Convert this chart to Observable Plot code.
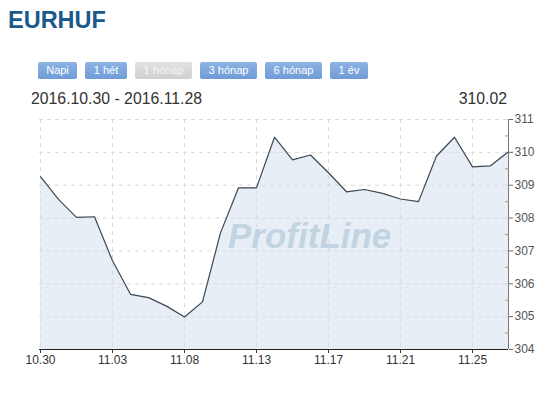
<!DOCTYPE html>
<html>
<head>
<meta charset="utf-8">
<script src="https://cdn.jsdelivr.net/npm/d3@7"></script>
<script src="https://cdn.jsdelivr.net/npm/@observablehq/plot@0.6"></script>
<style>
  html, body { margin: 0; padding: 0; background: #fff; }
  #wrap { position: relative; width: 560px; height: 394px; overflow: hidden; font-family: "Liberation Sans", Arial, sans-serif; }
  #title { position: absolute; left: 8px; top: 7px; margin: 0; font-size: 23.5px; font-weight: bold; color: #19598c; letter-spacing: 0; }
  #buttons { position: absolute; left: 38px; top: 62px; display: flex; gap: 8px; }
  .btn { height: 17px; line-height: 17px; font-size: 11px; color: #fff; text-align: center; border-radius: 2px;
         background: linear-gradient(#8db3e3, #6f9bd7); }
  .btn.off { background: linear-gradient(#e2e2e2, #cfcfcf); color: #f6f6f6; }
  #range { position: absolute; left: 31px; top: 90px; font-size: 15.8px; color: #333; }
  #last { position: absolute; right: 53px; top: 90px; font-size: 15.8px; color: #333; }
  #chart { position: absolute; left: 0; top: 100px; }
  #wm { position: absolute; left: 228px; top: 216px; font-size: 35px; font-weight: bold; font-style: italic; color: #c2d4e1; pointer-events: none; }
</style>
</head>
<body>
<div id="wrap">
  <h1 id="title"></h1>
  <div id="buttons"></div>
  <div id="range"></div>
  <div id="last"></div>
  <div id="chart"></div>
  <div id="wm"></div>
</div>
<script>
const titleText = "EURHUF";
const buttonLabels = ["Napi", "1 hét", "1 hónap", "3 hónap", "6 hónap", "1 év"];
const buttonWidths = [39, 42, 57, 57, 57, 38];
const activeButton = "1 hónap";
const rangeText = "2016.10.30 - 2016.11.28";
const lastValueText = "310.02";
const watermark = "ProfitLine";

const dates = ["10.30","10.31","11.01","11.02","11.03","11.04","11.06","11.07","11.08","11.09",
               "11.10","11.11","11.13","11.14","11.15","11.16","11.17","11.18","11.19","11.20",
               "11.21","11.22","11.23","11.24","11.25","11.27","11.28"];
const values = [309.26, 308.57, 308.02, 308.04, 306.70, 305.68, 305.58, 305.32, 304.99, 305.45,
                307.55, 308.92, 308.92, 310.46, 309.77, 309.92, 309.38, 308.80, 308.87, 308.75,
                308.58, 308.50, 309.89, 310.46, 309.56, 309.59, 310.02];
const xTickLabels = ["10.30","11.03","11.08","11.13","11.17","11.21","11.25"];
const yTicks = [304, 305, 306, 307, 308, 309, 310, 311];
const yMinorTicks = [304.5, 305.5, 306.5, 307.5, 308.5, 309.5, 310.5];

document.getElementById("title").textContent = titleText;
document.getElementById("range").textContent = rangeText;
document.getElementById("last").textContent = lastValueText;
document.getElementById("wm").textContent = watermark;
const bwrap = document.getElementById("buttons");
buttonLabels.forEach((b, i) => {
  const el = document.createElement("div");
  el.className = "btn" + (b === activeButton ? " off" : "");
  el.style.width = buttonWidths[i] + "px";
  el.textContent = b;
  bwrap.appendChild(el);
});

const data = dates.map((d, i) => ({date: d, value: values[i]}));
const yMin = yTicks[0];

const chart = Plot.plot({
  width: 560,
  height: 294,
  marginTop: 19,
  marginBottom: 45,
  marginLeft: 39,
  marginRight: 52,
  style: {fontFamily: "'Liberation Sans', Arial, sans-serif", fontSize: "12px", background: "transparent", overflow: "visible"},
  x: {type: "point", domain: dates, padding: 0},
  y: {domain: [yTicks[0], yTicks[yTicks.length - 1]]},
  marks: [
    Plot.areaY(data, {x: "date", y1: yMin, y2: "value", fill: "#e7eef6"}),
    Plot.gridX(xTickLabels, {stroke: "#dadada", strokeOpacity: 1, strokeDasharray: "4,4"}),
    Plot.gridY(yTicks.slice(1), {stroke: "#dadada", strokeOpacity: 1, strokeDasharray: "4,4"}),
    Plot.lineY(data, {x: "date", y: "value", stroke: "#3c4852", strokeWidth: 1.2}),
    Plot.ruleY([yMin], {stroke: "#222", strokeWidth: 1.2}),
    Plot.ruleX([dates[dates.length - 1]], {stroke: "#777"}),
    Plot.axisX(xTickLabels, {tickSize: 4, tickPadding: 2, color: "#333", stroke: "#333", label: null}),
    Plot.axisY(yTicks, {anchor: "right", tickSize: 4, tickPadding: 2, color: "#555", stroke: "#666", label: null}),
    Plot.axisY(yMinorTicks, {anchor: "right", tickSize: -4, tickFormat: () => "", stroke: "#b88", label: null})
  ]
});
document.getElementById("chart").appendChild(chart);
</script>
</body>
</html>
